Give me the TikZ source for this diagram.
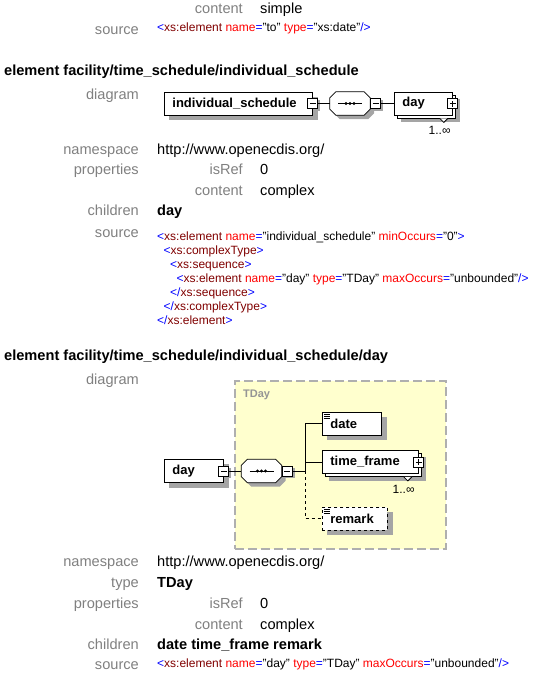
\documentclass[tikz,border=0pt]{standalone}
\usepackage{fontspec}
\setmainfont{Liberation Sans}
\usepackage{xcolor}
\usetikzlibrary{calc}

\definecolor{lblgray}{RGB}{128,128,128}
\definecolor{tagblue}{RGB}{0,0,255}
\definecolor{tagred}{RGB}{128,0,0}
\definecolor{attrred}{RGB}{255,0,0}
\definecolor{typeyellow}{RGB}{255,255,206}
\definecolor{typeborder}{RGB}{175,175,175}
\definecolor{shadowgray}{RGB}{165,165,165}

\pgfdeclarelayer{back}
\pgfdeclarelayer{shade}
\pgfsetlayers{back,shade,main}

\newcommand{\xtagopen}{\textcolor{tagblue}{<}}
\newcommand{\xtagclose}{\textcolor{tagblue}{>}}
\newcommand{\xtagempty}{\textcolor{tagblue}{/>}}
\newcommand{\xtagend}{\textcolor{tagblue}{</}}
\newcommand{\xtname}[1]{\textcolor{tagred}{#1}}
\newcommand{\xattr}[2]{\space\textcolor{attrred}{#1}\textcolor{tagblue}{=}"#2"}

% gray shadow behind a named node
\newcommand{\shadowof}[2]{%
  \begin{pgfonlayer}{shade}
    \fill[shadowgray] ($(#1.south west)+(#2,#2)$) rectangle ($(#1.north east)+(#2,#2)$);
  \end{pgfonlayer}}

% octagon of a sequence compositor, drawn round a named node
\newcommand{\drawseq}[1]{%
  \foreach \off/\sty in {4/seqshadow, 0/seqbody}
    \path[\sty] ($(#1.north west)+(6+\off,\off)$) -- ($(#1.north east)+(-6+\off,\off)$)
      -- ($(#1.north east)+(\off,6+\off)$) -- ($(#1.south east)+(\off,-6+\off)$)
      -- ($(#1.south east)+(-6+\off,\off)$) -- ($(#1.south west)+(6+\off,\off)$)
      -- ($(#1.south west)+(\off,-6+\off)$) -- ($(#1.north west)+(\off,6+\off)$) -- cycle;
  \draw[conn] ($(#1.center)+(-12,0)$) -- ($(#1.center)+(12,0)$);
  \foreach \dx in {-4,0,4} \fill[black] ($(#1.center)+(\dx,0)$) circle (1.6pt);
}

\tikzset{
  lbl/.style={text=lblgray, font=\fontsize{14.6}{17}\selectfont, anchor=mid east, inner sep=0},
  val/.style={font=\fontsize{14.6}{17}\selectfont, anchor=mid west, inner sep=0},
  valb/.style={val, font=\bfseries\fontsize{14.6}{17}\selectfont},
  heading/.style={font=\bfseries\fontsize{14.6}{17}\selectfont, anchor=mid west, inner sep=0},
  srcline/.style={font=\fontsize{12}{14}\selectfont, anchor=mid west, inner sep=0},
  copyback/.style={preaction={draw=black, fill=white, solid, transform canvas={shift={(3pt,-3pt)}}}},
  elem/.style={draw, fill=white, line width=0.8pt, font=\bfseries\fontsize{13}{15}\selectfont,
    minimum height=23pt, inner xsep=8pt, inner ysep=0pt, align=left, anchor=west},
  multielem/.style={elem, copyback},
  optelem/.style={elem, dashed},
  simpleicon/.style={path picture={
    \foreach \dy in {2,4,6}
      \draw[line width=0.7pt, solid] ([shift={(1.5pt,-\dy pt)}]path picture bounding box.north west) -- ++(6pt,0);}},
  minusbox/.style={draw, fill=white, line width=0.8pt, minimum size=10pt, inner sep=0,
    path picture={\draw ([xshift=2pt]path picture bounding box.west) -- ([xshift=-2pt]path picture bounding box.east);}},
  plusbox/.style={minusbox,
    path picture={\draw ([xshift=2pt]path picture bounding box.west) -- ([xshift=-2pt]path picture bounding box.east);
      \draw ([yshift=2pt]path picture bounding box.south) -- ([yshift=-2pt]path picture bounding box.north);}},
  seq/.style={rectangle, minimum width=40pt, minimum height=23pt, inner sep=0},
  seqshadow/.style={fill=shadowgray},
  seqbody/.style={draw, fill=white, line width=0.8pt},
  mult/.style={font=\fontsize{12}{14}\selectfont, anchor=north east, inner sep=0},
  typebox/.style={fill=typeyellow, draw=typeborder, line width=1.5pt, dash pattern=on 9pt off 4pt, inner sep=0},
  conn/.style={line width=0.8pt}
}

\begin{document}
\begin{tikzpicture}[x=1pt, y=-1pt]
  \newcommand{\lblx}{139}
  \newcommand{\valx}{157}
  \newcommand{\proplblx}{243}
  \newcommand{\propvalx}{260}
  \newcommand{\codex}{157}
  \newcommand{\codeind}{6.5}
  \useasboundingbox (0,0) rectangle (539,675);

  % tail of the previous entry
  \node[lbl] (topcontentlbl) at (\proplblx,11) {content};
  \node[val] (topcontentval) at (\propvalx,11) {simple};
  \node[lbl] (topsrclbl) at (\lblx,32) {source};
  \node[srcline] (topsrc) at (\codex,29) {\xtagopen\xtname{xs:element}\xattr{name}{to}\xattr{type}{xs:date}\xtagempty};

  % element individual_schedule
  \node[heading] (headsched) at (4,73) {element facility/time\_schedule/individual\_schedule};
  \node[lbl] (diaglbl1) at (\lblx,97) {diagram};
  \node[elem, text width=132pt] (isched) at (164,103.5) {individual\_schedule};
  \node[minusbox] (ischedm) at (isched.east) {};
  \node[seq] (seqa) at (350,103.5) {};
  \drawseq{seqa}
  \node[minusbox, anchor=west] (seqam) at (seqa.east) {};
  \node[multielem, text width=42pt] (daya) at (394,103.5) {day};
  \node[plusbox] (dayap) at (daya.east) {};
  \draw[fill=white, line width=0.8pt] ($(daya.south east)+(-13,3)$) -- ++(4,4) -- ++(4,-4);
  \node[mult] (dayamult) at ($(daya.south east)+(-2,11)$) {1..∞};
  \draw[conn] (ischedm.east) -- (seqa.west);
  \draw[conn] (seqam.east) -- (daya.west);
  \shadowof{isched}{5}
  \shadowof{daya}{7}
  \shadowof{ischedm}{2}
  \shadowof{seqam}{2}
  \shadowof{dayap}{2}

  \node[lbl] (nslbl1) at (\lblx,152) {namespace};
  \node[val] (nsval1) at (\valx,152) {http://www.openecdis.org/};
  \node[lbl] (proplbl1) at (\lblx,172) {properties};
  \node[lbl] (isreflbl1) at (\proplblx,172) {isRef};
  \node[val] (isrefval1) at (\propvalx,172) {0};
  \node[lbl] (contlbl1) at (\proplblx,193) {content};
  \node[val] (contval1) at (\propvalx,193) {complex};
  \node[lbl] (chldlbl1) at (\lblx,213) {children};
  \node[valb] (chldval1) at (\valx,213) {day};
  \node[lbl] (srclbl1) at (\lblx,235) {source};
  \node[srcline] (src1a) at (\codex,238) {\xtagopen\xtname{xs:element}\xattr{name}{individual\_schedule}\xattr{minOccurs}{0}\xtagclose};
  \node[srcline] (src1b) at (\codex+\codeind,252) {\xtagopen\xtname{xs:complexType}\xtagclose};
  \node[srcline] (src1c) at (\codex+2*\codeind,266) {\xtagopen\xtname{xs:sequence}\xtagclose};
  \node[srcline] (src1d) at (\codex+3*\codeind,280) {\xtagopen\xtname{xs:element}\xattr{name}{day}\xattr{type}{TDay}\xattr{maxOccurs}{unbounded}\xtagempty};
  \node[srcline] (src1e) at (\codex+2*\codeind,294) {\xtagend\xtname{xs:sequence}\xtagclose};
  \node[srcline] (src1f) at (\codex+\codeind,308) {\xtagend\xtname{xs:complexType}\xtagclose};
  \node[srcline] (src1g) at (\codex,322) {\xtagend\xtname{xs:element}\xtagclose};

  % element individual_schedule/day
  \node[heading] (headday) at (4,358) {element facility/time\_schedule/individual\_schedule/day};
  \node[lbl] (diaglbl2) at (\lblx,382) {diagram};
  \begin{pgfonlayer}{back}
    \node[typebox, minimum width=211pt, minimum height=168pt, anchor=north west] (tday) at (234,380) {};
    \node[font=\bfseries\fontsize{11}{13}\selectfont, text=typeborder!85!black, anchor=north west, inner sep=0] (tdaylbl) at ($(tday.north west)+(9,10)$) {TDay};
  \end{pgfonlayer}
  \node[elem, text width=43pt] (dayb) at (164,471) {day};
  \node[minusbox] (daybm) at (dayb.east) {};
  \node[seq] (seqb) at (261.5,471) {};
  \drawseq{seqb}
  \node[minusbox, anchor=west] (seqbm) at (seqb.east) {};
  \coordinate (fork) at (305,471);
  \node[elem, simpleicon, text width=43pt] (date) at (322,423.5) {date};
  \node[multielem, text width=80pt] (tframe) at (322,462) {time\_frame};
  \node[plusbox] (tframep) at (tframe.east) {};
  \draw[fill=white, line width=0.8pt] ($(tframe.south east)+(-15,3)$) -- ++(4,4) -- ++(4,-4);
  \node[mult] (tframemult) at ($(tframe.south east)+(-4,11)$) {1..∞};
  \node[optelem, simpleicon, text width=49pt] (remark) at (322,518.5) {remark};
  \draw[conn] (daybm.east) -- (seqb.west);
  \draw[conn] (seqbm.east) -- (fork);
  \draw[conn] (fork) |- (date.west);
  \draw[conn] (fork) |- (tframe.west);
  \draw[conn, dashed] (fork) |- (remark.west);
  \shadowof{dayb}{5}
  \shadowof{date}{5}
  \shadowof{tframe}{7}
  \shadowof{remark}{5}
  \shadowof{daybm}{2}
  \shadowof{seqbm}{2}
  \shadowof{tframep}{2}

  \node[lbl] (nslbl2) at (\lblx,564) {namespace};
  \node[val] (nsval2) at (\valx,564) {http://www.openecdis.org/};
  \node[lbl] (typelbl2) at (\lblx,585) {type};
  \node[valb] (typeval2) at (\valx,585) {TDay};
  \node[lbl] (proplbl2) at (\lblx,606) {properties};
  \node[lbl] (isreflbl2) at (\proplblx,606) {isRef};
  \node[val] (isrefval2) at (\propvalx,606) {0};
  \node[lbl] (contlbl2) at (\proplblx,627) {content};
  \node[val] (contval2) at (\propvalx,627) {complex};
  \node[lbl] (chldlbl2) at (\lblx,647) {children};
  \node[valb] (chldval2) at (\valx,647) {date time\_frame remark};
  \node[lbl] (srclbl2) at (\lblx,667) {source};
  \node[srcline] (src2) at (\codex,665) {\xtagopen\xtname{xs:element}\xattr{name}{day}\xattr{type}{TDay}\xattr{maxOccurs}{unbounded}\xtagempty};
\end{tikzpicture}
\end{document}
